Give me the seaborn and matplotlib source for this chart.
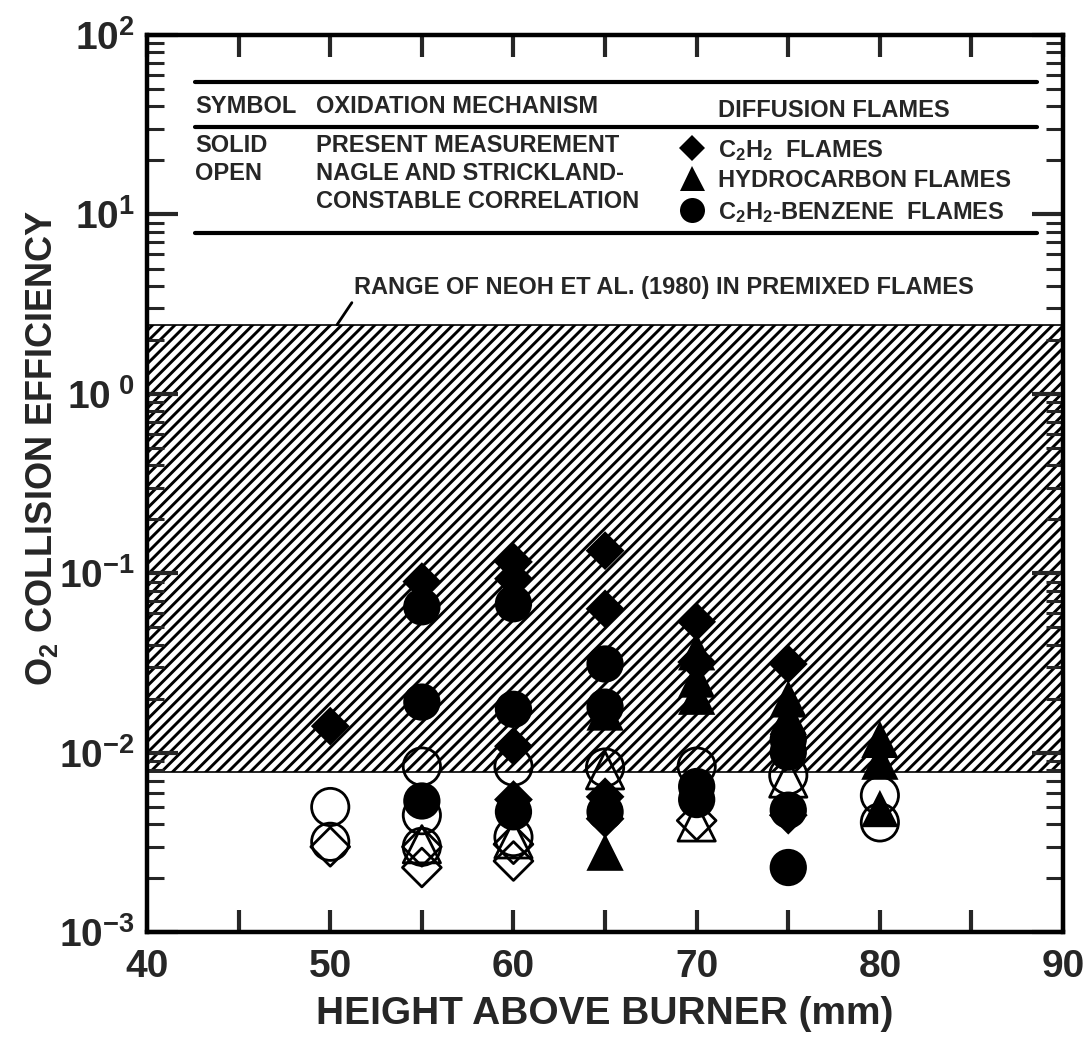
import numpy as np
import pandas as pd
import matplotlib
matplotlib.use('Agg')
import matplotlib.pyplot as plt
import matplotlib.ticker as mticker
from matplotlib import font_manager
import seaborn as sns

# values (x = height above burner mm, y = O2 collision efficiency)
# solid symbols: present measurement
c2h2_solid_x = [50, 55, 60, 60, 60, 60, 65, 65, 65, 65, 70, 70, 75, 75]
c2h2_solid_y = [0.0141, 0.090, 0.116, 0.0935, 0.0109, 0.0055, 0.134, 0.0635, 0.0057, 0.0043,
                0.0538, 0.0321, 0.0313, 0.0045]
hc_solid_x = [55, 60, 65, 65, 70, 70, 70, 75, 75, 80, 80, 80]
hc_solid_y = [0.080, 0.085, 0.0169, 0.0028, 0.0366, 0.0258, 0.0207, 0.0200, 0.0160,
              0.0119, 0.0090, 0.0049]
bz_solid_x = [55, 55, 55, 60, 60, 60, 65, 65, 65, 70, 70, 75, 75, 75, 75]
bz_solid_y = [0.0652, 0.0192, 0.0054, 0.0678, 0.0175, 0.0047, 0.0313, 0.0180, 0.0047,
              0.0065, 0.0055, 0.0119, 0.0101, 0.0048, 0.0023]
# open symbols: Nagle and Strickland-Constable correlation
c2h2_open_x = [50, 55, 55, 60, 60, 70]
c2h2_open_y = [0.0030, 0.0030, 0.0023, 0.0031, 0.0025, 0.0042]
hc_open_x = [55, 60, 65, 70, 75]
hc_open_y = [0.0031, 0.0033, 0.0080, 0.0041, 0.0072]
bz_open_x = [50, 50, 55, 55, 55, 60, 60, 65, 70, 75, 80, 80]
bz_open_y = [0.0050, 0.0032, 0.0084, 0.0045, 0.0030, 0.0084, 0.0034, 0.0083, 0.0084,
             0.0075, 0.0058, 0.0041]

band_low, band_high = 0.0078, 2.43   # range of Neoh et al. (1980)

xtick_values = [40, 50, 60, 70, 80, 90]
xtick_labels = ['40', '50', '60', '70', '80', '90']
ytick_values = [1e-3, 1e-2, 1e-1, 1e0, 1e1, 1e2]
ytick_labels = ['$10^{-3}$', '$10^{-2}$', '$10^{-1}$', '$10^{\\ 0}$', '$10^{1}$', '$10^{2}$']

flame_order = ['C2H2', 'HC', 'BZ']
markers = {'C2H2': 'D', 'HC': '^', 'BZ': 'o'}
sizes = {'C2H2': 390, 'HC': 720, 'BZ': 720}

rows = []
for fill, flame, xs, ys in [('solid', 'C2H2', c2h2_solid_x, c2h2_solid_y),
                            ('solid', 'HC', hc_solid_x, hc_solid_y),
                            ('solid', 'BZ', bz_solid_x, bz_solid_y),
                            ('open', 'C2H2', c2h2_open_x, c2h2_open_y),
                            ('open', 'HC', hc_open_x, hc_open_y),
                            ('open', 'BZ', bz_open_x, bz_open_y)]:
    for x, y in zip(xs, ys):
        rows.append((x, y, flame, fill))
df = pd.DataFrame(rows, columns=['height', 'eff', 'flame', 'fill'])

sns.set_style('white')
names = {f.name for f in font_manager.fontManager.ttflist}
narrow = 'Liberation Sans Narrow' in names
plt.rcParams['font.family'] = ['Liberation Sans', 'DejaVu Sans']
plt.rcParams['font.weight'] = 'bold'
plt.rcParams['mathtext.fontset'] = 'custom'
plt.rcParams['mathtext.rm'] = 'Liberation Sans:bold'
plt.rcParams['mathtext.bf'] = 'Liberation Sans:bold'
plt.rcParams['mathtext.it'] = 'Liberation Sans:bold'
plt.rcParams['mathtext.default'] = 'rm'
plt.rcParams['hatch.linewidth'] = 2.1

fig = plt.figure(figsize=(10.86, 10.38), dpi=100)
ax = fig.add_axes([0.1354, 0.1017, 0.8435, 0.8646])
ax.set_yscale('log')
ax.set_xlim(40, 90)
ax.set_ylim(1e-3, 1e2)

ax.axhspan(band_low, band_high, facecolor='white', edgecolor='black', hatch='///',
           lw=1.2, zorder=0.5)

solid = df[df['fill'] == 'solid']
sns.scatterplot(data=solid, x='height', y='eff', style='flame', size='flame',
                style_order=flame_order, size_order=flame_order,
                markers=markers, sizes=sizes, color='black', edgecolor='black',
                linewidth=0, legend=False, ax=ax, zorder=3, clip_on=False)
openm = df[df['fill'] == 'open']
sns.scatterplot(data=openm, x='height', y='eff', style='flame', size='flame',
                style_order=flame_order, size_order=flame_order,
                markers=markers, sizes=sizes, color='black', facecolors='none',
                edgecolor='black', linewidth=2.0, legend=False, ax=ax, zorder=4)

ax.set_xticks(xtick_values)
ax.set_xticklabels(xtick_labels)
ax.xaxis.set_minor_locator(mticker.FixedLocator([45, 55, 65, 75, 85]))
ax.set_yticks(ytick_values)
ax.set_yticklabels(ytick_labels)
ax.yaxis.set_minor_locator(mticker.LogLocator(base=10, subs=np.arange(2, 10)))
ax.yaxis.set_minor_formatter(mticker.NullFormatter())
ax.tick_params(axis='x', which='both', direction='in', top=True, bottom=True,
               length=16, width=3, labelsize=28, pad=12)
ax.tick_params(axis='y', which='major', direction='in', left=True, right=True,
               length=22, width=3, labelsize=28, pad=9)
ax.tick_params(axis='y', which='minor', direction='in', left=True, right=True,
               length=12, width=2.2)
for s in ax.spines.values():
    s.set_linewidth(3.2)
    s.set_color('black')

ax.set_xlabel('HEIGHT ABOVE BURNER (mm)', fontsize=28, fontweight='bold')
ax.xaxis.set_label_coords(0.5, -0.071)
if narrow:
    ax.set_ylabel('O$_2$ COLLISION EFFICIENCY', fontsize=31, fontweight='bold',
                  family='Liberation Sans Narrow')
else:
    ax.set_ylabel('O$_2$ COLLISION EFFICIENCY', fontsize=26, fontweight='bold')
ax.yaxis.set_label_coords(-0.095, 0.54)

# key box at the top
for yl in [0.9476, 0.8975, 0.7794]:
    ax.plot([0.0524, 0.9716], [yl, yl], color='black', lw=3, solid_capstyle='round',
            transform=ax.transAxes, zorder=5)
fs = 17
ax.text(0.0524, 0.9198, 'SYMBOL', transform=ax.transAxes, fontsize=fs, va='center')
ax.text(0.1845, 0.9198, 'OXIDATION MECHANISM', transform=ax.transAxes, fontsize=fs, va='center')
ax.text(0.6234, 0.9164, 'DIFFUSION FLAMES', transform=ax.transAxes, fontsize=fs, va='center')
ax.text(0.0524, 0.8774, 'SOLID', transform=ax.transAxes, fontsize=fs, va='center')
ax.text(0.0524, 0.8462, 'OPEN', transform=ax.transAxes, fontsize=fs, va='center')
ax.text(0.1845, 0.8774, 'PRESENT MEASUREMENT', transform=ax.transAxes, fontsize=fs, va='center')
ax.text(0.1845, 0.8462, 'NAGLE AND STRICKLAND-', transform=ax.transAxes, fontsize=fs, va='center')
ax.text(0.1845, 0.8139, 'CONSTABLE CORRELATION', transform=ax.transAxes, fontsize=fs, va='center')
key_labels = ['C$_2$H$_2$  FLAMES', 'HYDROCARBON FLAMES', 'C$_2$H$_2$-BENZENE  FLAMES']
key_y = [0.874, 0.8407, 0.805]
key_ms = {'C2H2': 13.5, 'HC': 18, 'BZ': 18}
for flame, lab, yk in zip(flame_order, key_labels, key_y):
    ax.plot([0.595], [yk], marker=markers[flame], ms=key_ms[flame], color='black',
            mew=0, transform=ax.transAxes, zorder=5)
    ax.text(0.6234, yk - 0.003, lab, transform=ax.transAxes, fontsize=fs, va='center')

ax.annotate('RANGE OF NEOH ET AL. (1980) IN PREMIXED FLAMES', xy=(50.37, band_high),
            xytext=(51.3, 3.9), textcoords='data', ha='left', va='center', fontsize=fs,
            arrowprops=dict(arrowstyle='-', lw=2, color='black', relpos=(0, 0),
                            shrinkA=0, shrinkB=0), zorder=5)

fig.savefig('out.png', dpi=100)
